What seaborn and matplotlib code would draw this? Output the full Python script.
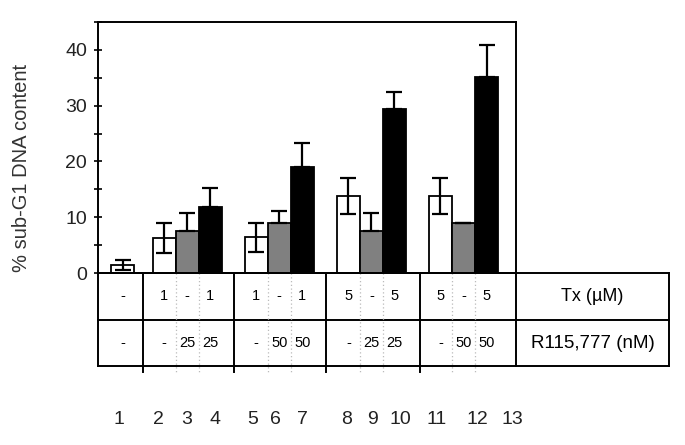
import numpy as np
import pandas as pd
import matplotlib
matplotlib.use("Agg")
import matplotlib.pyplot as plt
import matplotlib.transforms as mtransforms
import seaborn as sns

# ----------------------------
# Data
# ----------------------------
tx_dose = ["-", "1", "-", "1", "1", "-", "1", "5", "-", "5", "5", "-", "5"]
r115_dose = ["-", "-", "25", "25", "-", "50", "50", "-", "25", "25", "-", "50", "50"]
sub_g1 = [1.5, 6.3, 7.5, 11.9, 6.4, 8.9, 19.0, 13.8, 7.5, 29.4, 13.8, 8.9, 35.2]
sub_g1_err = [0.9, 2.7, 3.3, 3.3, 2.6, 2.2, 4.3, 3.3, 3.3, 3.1, 3.3, 0.0, 5.6]
lane_labels = [str(i) for i in range(1, 14)]

# treatment kind decides the fill
kind = []
for t, r in zip(tx_dose, r115_dose):
    if t != "-" and r != "-":
        kind.append("combo")
    elif r != "-":
        kind.append("r115")
    else:
        kind.append("tx")
palette = {"tx": "white", "r115": "#808080", "combo": "black"}

# ----------------------------
# Layout
# ----------------------------
# single control bar, then 4 groups of 3 touching bars with a one-slot gap
pos = [0.2] + [4 * g + 2 + j for g in range(4) for j in range(3)]
dividers = [1.1, 5.05, 9.05, 13.1]
x_left, x_right = -0.87, 17.28
table_right = 23.92

df = pd.DataFrame({"pos": pos, "val": sub_g1, "kind": kind})

plt.rcParams["font.family"] = ["Liberation Sans", "DejaVu Sans"]
fig = plt.figure(figsize=(6.85, 4.45), dpi=100)
ax = fig.add_axes([98 / 685, 1 - 273 / 445, (516 - 98) / 685, (273 - 22) / 445])

sns.barplot(data=df, x="pos", y="val", hue="kind", palette=palette,
            native_scale=True, dodge=False, width=1.0, edgecolor="black",
            linewidth=1.3, legend=False, ax=ax)

# error bars: both ways on open bars, upward only on filled bars
lower = [e if k == "tx" else 0 for e, k in zip(sub_g1_err, kind)]
ax.errorbar(pos, sub_g1, yerr=[lower, sub_g1_err], fmt="none", ecolor="black",
            elinewidth=1.6, capsize=5.5, capthick=1.6, zorder=5)

ax.set_xlim(x_left, x_right)
ax.set_ylim(0, 45)
ax.set_xticks([])
ax.set_xlabel("")
ax.set_yticks([0, 10, 20, 30, 40])
ax.set_yticks([5, 15, 25, 35, 45], minor=True)
ax.tick_params(axis="y", which="both", direction="inout", length=6, width=1.2,
               labelsize=14, labelcolor="#222222", pad=5)
ax.set_ylabel("% sub-G1 DNA content", fontsize=14.5, color="#333333")
ax.yaxis.set_label_coords(-0.16, 0.42)
for s in ax.spines.values():
    s.set_linewidth(1.4)
    s.set_color("black")

# ----------------------------
# Treatment table under the axis
# ----------------------------
trans = mtransforms.blended_transform_factory(ax.transData, ax.transAxes)
row_mid = (273 - 320) / 251
row_bot = (273 - 366) / 251
div_bot = (273 - 372) / 251
lw = 1.4

for yy in [0, row_mid, row_bot]:
    ax.plot([x_left, table_right], [yy, yy], color="black", lw=lw,
            transform=trans, clip_on=False)
for xx in [x_left, x_right, table_right]:
    ax.plot([xx, xx], [0, row_bot], color="black", lw=lw,
            transform=trans, clip_on=False)
for xx in dividers:
    ax.plot([xx, xx], [0, div_bot], color="black", lw=lw,
            transform=trans, clip_on=False)
for g in range(4):
    for j in range(2):
        xx = 4 * g + 2.5 + j
        ax.plot([xx, xx], [0, div_bot], color="#bbbbbb", lw=0.9, ls=(0, (1, 2)),
                transform=trans, clip_on=False)

for p, t, r in zip(pos, tx_dose, r115_dose):
    ax.text(p, (0 + row_mid) / 2, t, ha="center", va="center", fontsize=10.5,
            transform=trans)
    ax.text(p, (row_mid + row_bot) / 2, r, ha="center", va="center", fontsize=10.5,
            transform=trans)

label_x = (x_right + table_right) / 2
ax.text(label_x, (0 + row_mid) / 2, "Tx (\u00b5M)", ha="center", va="center",
        fontsize=13, transform=trans)
ax.text(label_x, (row_mid + row_bot) / 2, "R115,777 (nM)", ha="center",
        va="center", fontsize=13.5, transform=trans)

# lane numbers along the bottom (as placed in the original)
lane_px = [119, 158, 187, 215, 253, 275, 302, 347, 372, 400, 437, 477, 512]
for xp, lab in zip(lane_px, lane_labels):
    fig.text(xp / 685, 1 - 420 / 445, lab, ha="center", va="center",
             fontsize=14, color="#222222")

fig.savefig("out.png", dpi=100)
